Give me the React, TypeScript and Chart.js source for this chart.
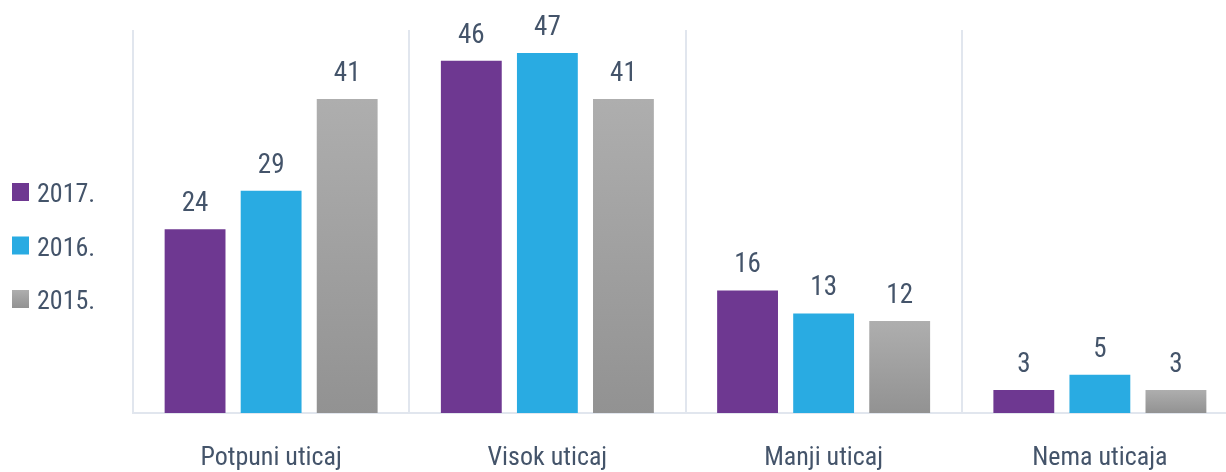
import React, { useEffect, useRef } from "react";
import { Chart, registerables } from "chart.js";

Chart.register(...registerables);

const categories = ["Potpuni uticaj", "Visok uticaj", "Manji uticaj", "Nema uticaja"];
const seriesLabels = ["2017.", "2016.", "2015."];
const values2017 = [24, 46, 16, 3];
const values2016 = [29, 47, 13, 5];
const values2015 = [41, 41, 12, 3];

const FONT = "'Liberation Sans Narrow', 'Roboto Condensed', 'DejaVu Sans Condensed', 'Liberation Sans', sans-serif";
const TEXT = "#44546a";
const GRID = "#e1e6ee";
const PURPLE = "#6e3891";
const BLUE = "#29abe2";
const GRAY_TOP = "#aeaeae";
const GRAY_BOT = "#929292";

function grayFill(ctx: any) {
  const chart = ctx.chart;
  const area = chart.chartArea;
  const yScale = chart.scales && chart.scales.y;
  if (!area || !yScale || ctx.raw === undefined) return GRAY_TOP;
  const top = yScale.getPixelForValue(ctx.raw);
  const bot = yScale.getPixelForValue(0);
  if (!isFinite(top) || !isFinite(bot) || top === bot) return GRAY_TOP;
  const g = chart.ctx.createLinearGradient(0, top, 0, bot);
  g.addColorStop(0, GRAY_TOP);
  g.addColorStop(1, GRAY_BOT);
  return g;
}

const valueLabels = {
  id: "valueLabels",
  afterDatasetsDraw(chart: any) {
    const ctx = chart.ctx;
    ctx.save();
    ctx.fillStyle = TEXT;
    ctx.font = `27px ${FONT}`;
    ctx.textAlign = "center";
    ctx.textBaseline = "alphabetic";
    chart.data.datasets.forEach((ds: any, di: number) => {
      const meta = chart.getDatasetMeta(di);
      meta.data.forEach((bar: any, i: number) => {
        ctx.fillText(String(ds.data[i]), bar.x, bar.y - 18);
      });
    });
    ctx.restore();
  },
};

const sideLegend = {
  id: "sideLegend",
  afterDraw(chart: any) {
    const ctx = chart.ctx;
    ctx.save();
    ctx.font = `26px ${FONT}`;
    ctx.textAlign = "left";
    ctx.textBaseline = "alphabetic";
    chart.data.datasets.forEach((ds: any, di: number) => {
      const top = 183 + di * 53.5;
      if (di === 2) {
        const g = ctx.createLinearGradient(0, top, 0, top + 18);
        g.addColorStop(0, GRAY_TOP);
        g.addColorStop(1, GRAY_BOT);
        ctx.fillStyle = g;
      } else {
        ctx.fillStyle = ds.legendColor;
      }
      ctx.fillRect(12, top, 17, 18);
      ctx.fillStyle = TEXT;
      ctx.fillText(ds.label, 37, top + 19);
    });
    ctx.restore();
  },
};

export default function App() {
  const ref = useRef<HTMLCanvasElement | null>(null);

  useEffect(() => {
    if (!ref.current) return;
    const chart = new Chart(ref.current, {
      type: "bar",
      data: {
        labels: categories,
        datasets: [
          { label: seriesLabels[0], data: values2017, backgroundColor: PURPLE, legendColor: PURPLE } as any,
          { label: seriesLabels[1], data: values2016, backgroundColor: BLUE, legendColor: BLUE } as any,
          { label: seriesLabels[2], data: values2015, backgroundColor: grayFill, legendColor: GRAY_TOP } as any,
        ],
      },
      options: {
        animation: false,
        responsive: true,
        maintainAspectRatio: false,
        layout: { padding: { left: 133, top: 30, right: 0, bottom: 0 } },
        datasets: {
          bar: { categoryPercentage: 0.826, barPercentage: 0.8 },
        },
        plugins: {
          legend: { display: false },
          tooltip: { enabled: false },
        },
        scales: {
          x: {
            grid: { display: true, offset: true, color: GRID, lineWidth: 2, drawTicks: false },
            border: { display: true, color: GRID, width: 2 },
            ticks: { color: TEXT, font: { family: FONT, size: 26 }, padding: 30, maxRotation: 0 },
            afterFit: (scale: any) => {
              scale.height = 59;
            },
          },
          y: {
            display: false,
            min: 0,
            max: 50,
          },
        },
      },
      plugins: [valueLabels, sideLegend],
    });
    return () => chart.destroy();
  }, []);

  return (
    <div style={{ position: "absolute", left: 0, top: 0, width: 1226, height: 472, overflow: "hidden", background: "#fff" }}>
      <div style={{ position: "relative", width: 1238, height: 472 }}>
        <canvas ref={ref} />
      </div>
    </div>
  );
}
